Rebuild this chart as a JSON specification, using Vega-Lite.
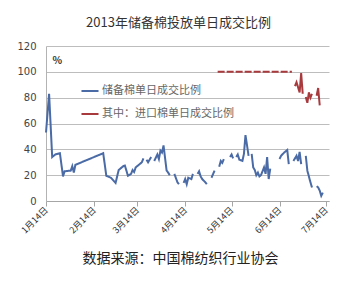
{
  "$schema": "https://vega.github.io/schema/vega-lite/v6.json",
  "width": 283,
  "height": 155,
  "autosize": {"type": "none"},
  "padding": {"left": 46, "top": 46, "right": 28, "bottom": 83},
  "background": "white",
  "title": {
    "text": "2013年储备棉投放单日成交比例",
    "font": "Noto Sans CJK SC",
    "fontSize": 13,
    "fontWeight": "normal",
    "color": "#333333",
    "anchor": "middle",
    "frame": "group",
    "offset": 11,
    "dx": -9
  },
  "config": {
    "view": {"stroke": null},
    "font": "Noto Sans CJK SC"
  },
  "data": {
    "values": [
      {"date": "2013/01/14", "series": "储备棉单日成交比例", "style": "solid", "value": 53},
      {"date": "2013/01/16", "series": "储备棉单日成交比例", "style": "solid", "value": 83},
      {"date": "2013/01/18", "series": "储备棉单日成交比例", "style": "solid", "value": 34},
      {"date": "2013/01/20", "series": "储备棉单日成交比例", "style": "solid", "value": 36},
      {"date": "2013/01/23", "series": "储备棉单日成交比例", "style": "solid", "value": 37},
      {"date": "2013/01/25", "series": "储备棉单日成交比例", "style": "solid", "value": 19},
      {"date": "2013/01/26", "series": "储备棉单日成交比例", "style": "solid", "value": 23},
      {"date": "2013/01/30", "series": "储备棉单日成交比例", "style": "solid", "value": 23.5},
      {"date": "2013/01/31", "series": "储备棉单日成交比例", "style": "solid", "value": 27},
      {"date": "2013/02/01", "series": "储备棉单日成交比例", "style": "solid", "value": 22},
      {"date": "2013/02/02", "series": "储备棉单日成交比例", "style": "solid", "value": 28},
      {"date": "2013/02/20", "series": "储备棉单日成交比例", "style": "solid", "value": 37},
      {"date": "2013/02/22", "series": "储备棉单日成交比例", "style": "solid", "value": 19.5},
      {"date": "2013/02/25", "series": "储备棉单日成交比例", "style": "solid", "value": 18},
      {"date": "2013/02/28", "series": "储备棉单日成交比例", "style": "solid", "value": 14},
      {"date": "2013/03/02", "series": "储备棉单日成交比例", "style": "solid", "value": 24},
      {"date": "2013/03/05", "series": "储备棉单日成交比例", "style": "solid", "value": 27},
      {"date": "2013/03/06", "series": "储备棉单日成交比例", "style": "solid", "value": 27.5},
      {"date": "2013/03/08", "series": "储备棉单日成交比例", "style": "solid", "value": 19.5},
      {"date": "2013/03/10", "series": "储备棉单日成交比例", "style": "solid", "value": 21},
      {"date": "2013/03/11", "series": "储备棉单日成交比例", "style": "solid", "value": 24},
      {"date": "2013/03/12", "series": "储备棉单日成交比例", "style": "solid", "value": 22.5},
      {"date": "2013/03/13", "series": "储备棉单日成交比例", "style": "solid", "value": 26},
      {"date": "2013/03/14", "series": "储备棉单日成交比例", "style": "solid", "value": 27},
      {"date": "2013/03/17", "series": "储备棉单日成交比例", "style": "solid", "value": 30},
      {"date": "2013/03/18", "series": "储备棉单日成交比例", "style": "solid", "value": 33},
      {"date": "2013/03/19", "series": "储备棉单日成交比例", "style": "solid", "value": null},
      {"date": "2013/03/20", "series": "储备棉单日成交比例", "style": "solid", "value": 32},
      {"date": "2013/03/21", "series": "储备棉单日成交比例", "style": "solid", "value": 30},
      {"date": "2013/03/23", "series": "储备棉单日成交比例", "style": "solid", "value": 34},
      {"date": "2013/03/24", "series": "储备棉单日成交比例", "style": "solid", "value": null},
      {"date": "2013/03/25", "series": "储备棉单日成交比例", "style": "solid", "value": 31},
      {"date": "2013/03/27", "series": "储备棉单日成交比例", "style": "solid", "value": 36},
      {"date": "2013/03/28", "series": "储备棉单日成交比例", "style": "solid", "value": 32.5},
      {"date": "2013/03/29", "series": "储备棉单日成交比例", "style": "solid", "value": 39},
      {"date": "2013/03/30", "series": "储备棉单日成交比例", "style": "solid", "value": 37.5},
      {"date": "2013/03/31", "series": "储备棉单日成交比例", "style": "solid", "value": 43},
      {"date": "2013/04/02", "series": "储备棉单日成交比例", "style": "solid", "value": 23.5},
      {"date": "2013/04/03", "series": "储备棉单日成交比例", "style": "solid", "value": 22},
      {"date": "2013/04/04", "series": "储备棉单日成交比例", "style": "solid", "value": 20},
      {"date": "2013/04/05", "series": "储备棉单日成交比例", "style": "solid", "value": null},
      {"date": "2013/04/07", "series": "储备棉单日成交比例", "style": "solid", "value": 21},
      {"date": "2013/04/09", "series": "储备棉单日成交比例", "style": "solid", "value": 14.5},
      {"date": "2013/04/10", "series": "储备棉单日成交比例", "style": "solid", "value": 13},
      {"date": "2013/04/11", "series": "储备棉单日成交比例", "style": "solid", "value": null},
      {"date": "2013/04/13", "series": "储备棉单日成交比例", "style": "solid", "value": 14},
      {"date": "2013/04/14", "series": "储备棉单日成交比例", "style": "solid", "value": 17},
      {"date": "2013/04/15", "series": "储备棉单日成交比例", "style": "solid", "value": 13},
      {"date": "2013/04/16", "series": "储备棉单日成交比例", "style": "solid", "value": 18},
      {"date": "2013/04/18", "series": "储备棉单日成交比例", "style": "solid", "value": 17},
      {"date": "2013/04/19", "series": "储备棉单日成交比例", "style": "solid", "value": 21},
      {"date": "2013/04/20", "series": "储备棉单日成交比例", "style": "solid", "value": null},
      {"date": "2013/04/22", "series": "储备棉单日成交比例", "style": "solid", "value": 21},
      {"date": "2013/04/23", "series": "储备棉单日成交比例", "style": "solid", "value": 23},
      {"date": "2013/04/24", "series": "储备棉单日成交比例", "style": "solid", "value": 19},
      {"date": "2013/04/25", "series": "储备棉单日成交比例", "style": "solid", "value": 17},
      {"date": "2013/04/27", "series": "储备棉单日成交比例", "style": "solid", "value": 14.5},
      {"date": "2013/04/28", "series": "储备棉单日成交比例", "style": "solid", "value": 13},
      {"date": "2013/04/29", "series": "储备棉单日成交比例", "style": "solid", "value": null},
      {"date": "2013/05/01", "series": "储备棉单日成交比例", "style": "solid", "value": 18},
      {"date": "2013/05/03", "series": "储备棉单日成交比例", "style": "solid", "value": 23.5},
      {"date": "2013/05/04", "series": "储备棉单日成交比例", "style": "solid", "value": null},
      {"date": "2013/05/06", "series": "储备棉单日成交比例", "style": "solid", "value": 26.5},
      {"date": "2013/05/07", "series": "储备棉单日成交比例", "style": "solid", "value": 31},
      {"date": "2013/05/08", "series": "储备棉单日成交比例", "style": "solid", "value": 29.5},
      {"date": "2013/05/09", "series": "储备棉单日成交比例", "style": "solid", "value": 32.5},
      {"date": "2013/05/10", "series": "储备棉单日成交比例", "style": "solid", "value": null},
      {"date": "2013/05/13", "series": "储备棉单日成交比例", "style": "solid", "value": 34},
      {"date": "2013/05/14", "series": "储备棉单日成交比例", "style": "solid", "value": 36},
      {"date": "2013/05/15", "series": "储备棉单日成交比例", "style": "solid", "value": 33},
      {"date": "2013/05/16", "series": "储备棉单日成交比例", "style": "solid", "value": null},
      {"date": "2013/05/17", "series": "储备棉单日成交比例", "style": "solid", "value": 34},
      {"date": "2013/05/18", "series": "储备棉单日成交比例", "style": "solid", "value": 36},
      {"date": "2013/05/19", "series": "储备棉单日成交比例", "style": "solid", "value": 32},
      {"date": "2013/05/21", "series": "储备棉单日成交比例", "style": "solid", "value": 31},
      {"date": "2013/05/22", "series": "储备棉单日成交比例", "style": "solid", "value": 36.5},
      {"date": "2013/05/23", "series": "储备棉单日成交比例", "style": "solid", "value": 51},
      {"date": "2013/05/24", "series": "储备棉单日成交比例", "style": "solid", "value": 43},
      {"date": "2013/05/25", "series": "储备棉单日成交比例", "style": "solid", "value": 35},
      {"date": "2013/05/26", "series": "储备棉单日成交比例", "style": "solid", "value": null},
      {"date": "2013/05/27", "series": "储备棉单日成交比例", "style": "solid", "value": 36.5},
      {"date": "2013/05/28", "series": "储备棉单日成交比例", "style": "solid", "value": 26},
      {"date": "2013/05/29", "series": "储备棉单日成交比例", "style": "solid", "value": 24},
      {"date": "2013/05/30", "series": "储备棉单日成交比例", "style": "solid", "value": 20},
      {"date": "2013/05/31", "series": "储备棉单日成交比例", "style": "solid", "value": 22},
      {"date": "2013/06/01", "series": "储备棉单日成交比例", "style": "solid", "value": 19},
      {"date": "2013/06/02", "series": "储备棉单日成交比例", "style": "solid", "value": 20},
      {"date": "2013/06/04", "series": "储备棉单日成交比例", "style": "solid", "value": 26},
      {"date": "2013/06/05", "series": "储备棉单日成交比例", "style": "solid", "value": 21},
      {"date": "2013/06/06", "series": "储备棉单日成交比例", "style": "solid", "value": 34},
      {"date": "2013/06/07", "series": "储备棉单日成交比例", "style": "solid", "value": 17},
      {"date": "2013/06/08", "series": "储备棉单日成交比例", "style": "solid", "value": 25},
      {"date": "2013/06/09", "series": "储备棉单日成交比例", "style": "solid", "value": null},
      {"date": "2013/06/14", "series": "储备棉单日成交比例", "style": "solid", "value": 32.5},
      {"date": "2013/06/15", "series": "储备棉单日成交比例", "style": "solid", "value": 35},
      {"date": "2013/06/17", "series": "储备棉单日成交比例", "style": "solid", "value": 37.5},
      {"date": "2013/06/19", "series": "储备棉单日成交比例", "style": "solid", "value": 39.5},
      {"date": "2013/06/20", "series": "储备棉单日成交比例", "style": "solid", "value": 28.5},
      {"date": "2013/06/21", "series": "储备棉单日成交比例", "style": "solid", "value": null},
      {"date": "2013/06/23", "series": "储备棉单日成交比例", "style": "solid", "value": 31},
      {"date": "2013/06/25", "series": "储备棉单日成交比例", "style": "solid", "value": 35},
      {"date": "2013/06/26", "series": "储备棉单日成交比例", "style": "solid", "value": 31},
      {"date": "2013/06/27", "series": "储备棉单日成交比例", "style": "solid", "value": 38},
      {"date": "2013/06/28", "series": "储备棉单日成交比例", "style": "solid", "value": 28.5},
      {"date": "2013/06/29", "series": "储备棉单日成交比例", "style": "solid", "value": null},
      {"date": "2013/07/01", "series": "储备棉单日成交比例", "style": "solid", "value": 35},
      {"date": "2013/07/02", "series": "储备棉单日成交比例", "style": "solid", "value": 23.5},
      {"date": "2013/07/04", "series": "储备棉单日成交比例", "style": "solid", "value": 14.5},
      {"date": "2013/07/05", "series": "储备棉单日成交比例", "style": "solid", "value": 10.5},
      {"date": "2013/07/06", "series": "储备棉单日成交比例", "style": "solid", "value": null},
      {"date": "2013/07/08", "series": "储备棉单日成交比例", "style": "solid", "value": 11.5},
      {"date": "2013/07/09", "series": "储备棉单日成交比例", "style": "solid", "value": 10.5},
      {"date": "2013/07/10", "series": "储备棉单日成交比例", "style": "solid", "value": 8},
      {"date": "2013/07/11", "series": "储备棉单日成交比例", "style": "solid", "value": 4},
      {"date": "2013/07/12", "series": "储备棉单日成交比例", "style": "solid", "value": 6.5},
      {"date": "2013/05/05", "series": "其中：进口棉单日成交比例", "style": "dashed", "value": 100},
      {"date": "2013/06/22", "series": "其中：进口棉单日成交比例", "style": "dashed", "value": 100},
      {"date": "2013/06/24", "series": "其中：进口棉单日成交比例", "style": "solid", "value": 89},
      {"date": "2013/06/25", "series": "其中：进口棉单日成交比例", "style": "solid", "value": 92},
      {"date": "2013/06/27", "series": "其中：进口棉单日成交比例", "style": "solid", "value": 84},
      {"date": "2013/06/28", "series": "其中：进口棉单日成交比例", "style": "solid", "value": 99},
      {"date": "2013/06/29", "series": "其中：进口棉单日成交比例", "style": "solid", "value": 83},
      {"date": "2013/06/30", "series": "其中：进口棉单日成交比例", "style": "solid", "value": null},
      {"date": "2013/07/01", "series": "其中：进口棉单日成交比例", "style": "solid", "value": 80.5},
      {"date": "2013/07/02", "series": "其中：进口棉单日成交比例", "style": "solid", "value": 76},
      {"date": "2013/07/03", "series": "其中：进口棉单日成交比例", "style": "solid", "value": 84},
      {"date": "2013/07/04", "series": "其中：进口棉单日成交比例", "style": "solid", "value": 80},
      {"date": "2013/07/05", "series": "其中：进口棉单日成交比例", "style": "solid", "value": 83},
      {"date": "2013/07/06", "series": "其中：进口棉单日成交比例", "style": "solid", "value": null},
      {"date": "2013/07/08", "series": "其中：进口棉单日成交比例", "style": "solid", "value": 81.5},
      {"date": "2013/07/09", "series": "其中：进口棉单日成交比例", "style": "solid", "value": 87.5},
      {"date": "2013/07/10", "series": "其中：进口棉单日成交比例", "style": "solid", "value": 74}
    ]
  },
  "mark": {"type": "line", "strokeWidth": 2, "invalid": "break-paths-show-domains"},
  "encoding": {
    "x": {
      "field": "date",
      "type": "temporal",
      "scale": {"domain": [{"year": 2013, "month": 1, "date": 14}, {"year": 2013, "month": 7, "date": 16}]},
      "axis": {
        "values": [
          {"year": 2013, "month": 1, "date": 14},
          {"year": 2013, "month": 2, "date": 14},
          {"year": 2013, "month": 3, "date": 14},
          {"year": 2013, "month": 4, "date": 14},
          {"year": 2013, "month": 5, "date": 14},
          {"year": 2013, "month": 6, "date": 14},
          {"year": 2013, "month": 7, "date": 14}
        ],
        "format": "%-m月%-d日",
        "labelAngle": -45,
        "labelAlign": "right",
        "labelBaseline": "middle",
        "labelFontSize": 9,
        "labelColor": "#333333",
        "labelPadding": 2,
        "labelFlush": false,
        "labelOverlap": false,
        "grid": false,
        "domainColor": "#a6a6a6",
        "tickColor": "#a6a6a6",
        "tickSize": 5,
        "title": "数据来源：中国棉纺织行业协会",
        "titleFontSize": 14,
        "titleFontWeight": "normal",
        "titleColor": "#222222",
        "titleX": 134,
        "titleY": 57,
        "titleAlign": "center",
        "titleBaseline": "middle"
      }
    },
    "y": {
      "field": "value",
      "type": "quantitative",
      "scale": {"domain": [0, 120], "nice": false},
      "axis": {
        "values": [0, 20, 40, 60, 80, 100, 120],
        "ticks": false,
        "labelPadding": 10,
        "labelFontSize": 10,
        "labelFont": "DejaVu Sans",
        "labelColor": "#444444",
        "domainColor": "#b3b3b3",
        "gridColor": "#bdbdbd",
        "title": "%",
        "titleAngle": 0,
        "titleX": 6,
        "titleY": 14,
        "titleAlign": "left",
        "titleBaseline": "middle",
        "titleFontSize": 10,
        "titleFontWeight": "bold",
        "titleColor": "#333333"
      }
    },
    "color": {
      "field": "series",
      "type": "nominal",
      "scale": {
        "domain": ["储备棉单日成交比例", "其中：进口棉单日成交比例"],
        "range": ["#4a6ba6", "#a83a3e"]
      },
      "legend": {
        "orient": "none",
        "legendX": 34,
        "legendY": 35,
        "title": null,
        "symbolType": "stroke",
        "symbolSize": 290,
        "symbolStrokeWidth": 2,
        "labelFontSize": 11,
        "labelColor": "#666666",
        "labelOffset": 2,
        "rowPadding": 8
      }
    },
    "strokeDash": {
      "field": "style",
      "type": "nominal",
      "scale": {"domain": ["solid", "dashed"], "range": [[1, 0], [7, 2]]},
      "legend": null
    }
  }
}
